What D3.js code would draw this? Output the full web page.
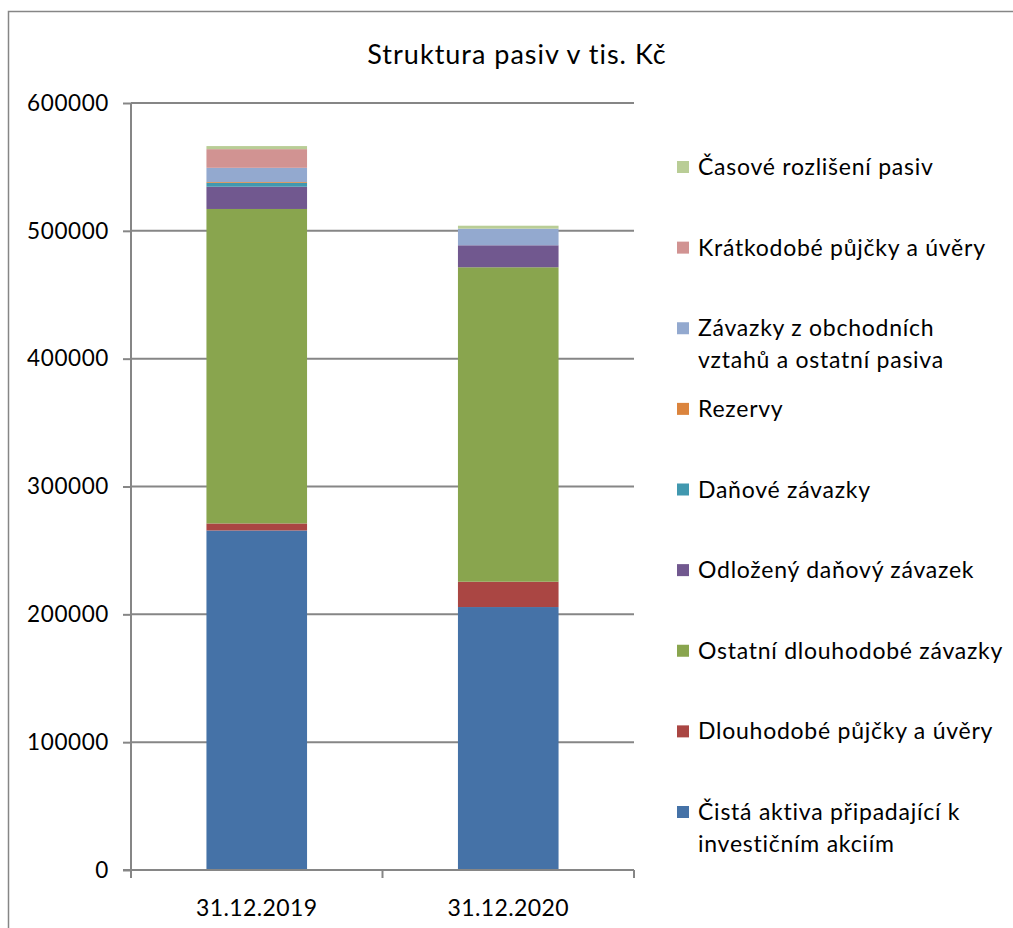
<!DOCTYPE html>
<html>
<head>
<meta charset="utf-8">
<script src="https://cdn.jsdelivr.net/npm/d3@7"></script>
<style>
  html, body { margin: 0; padding: 0; background: #fff; }
  svg { display: block; }
  text { font-family: Lato, "Open Sans", sans-serif; fill: #000; }
</style>
</head>
<body>
<svg id="chart" width="1013" height="928"></svg>
<script>
// Balance sheet liabilities, thousands CZK
const categories = ["31.12.2019", "31.12.2020"];

const seriesNames = [
  "Čistá aktiva připadající k investičním akciím",
  "Dlouhodobé půjčky a úvěry",
  "Ostatní dlouhodobé závazky",
  "Odložený daňový závazek",
  "Daňové závazky",
  "Rezervy",
  "Závazky z obchodních vztahů a ostatní pasiva",
  "Krátkodobé půjčky a úvěry",
  "Časové rozlišení pasiv"
];

const legendLines = [
  ["Čistá aktiva připadající k", "investičním akciím"],
  ["Dlouhodobé půjčky a úvěry"],
  ["Ostatní dlouhodobé závazky"],
  ["Odložený daňový závazek"],
  ["Daňové závazky"],
  ["Rezervy"],
  ["Závazky z obchodních", "vztahů a ostatní pasiva"],
  ["Krátkodobé půjčky a úvěry"],
  ["Časové rozlišení pasiv"]
];

const seriesColors = ["#4572A7", "#AA4643", "#89A54E", "#71588F", "#4198AF", "#DB843D", "#93A9CF", "#D19392", "#B9CD96"];

const values2019 = [265600, 5500, 246000, 17400, 3100, 600, 11100, 14600, 2400];
const values2020 = [205700, 19800, 246000, 17200, 0, 0, 13000, 0, 2300];

const yTicks = [0, 100000, 200000, 300000, 400000, 500000, 600000];

const svg = d3.select("#chart");
const grey = "#868686";

// outer chart frame
svg.append("path")
  .attr("d", "M8.5,940 V11.5 H1013")
  .attr("fill", "none").attr("stroke", grey).attr("stroke-width", 1.5);

const plot = { left: 131, right: 634, top: 103, bottom: 870 };

const x = d3.scaleBand().domain(categories).range([plot.left, plot.right]).paddingInner(0.6).paddingOuter(0.3);
const y = d3.scaleLinear().domain([0, 600000]).range([plot.bottom, plot.top]);

// gridlines
svg.append("g").selectAll("line").data(yTicks.filter(d => d > 0)).join("line")
  .attr("x1", plot.left).attr("x2", plot.right)
  .attr("y1", d => y(d)).attr("y2", d => y(d))
  .attr("stroke", grey).attr("stroke-width", 2);

// stacked bars
const rows = categories.map((c, i) => {
  const r = { cat: c };
  seriesNames.forEach((s, k) => { r[s] = (i === 0 ? values2019 : values2020)[k]; });
  return r;
});
const stacked = d3.stack().keys(seriesNames)(rows);

svg.append("g").selectAll("g").data(stacked).join("g")
  .attr("fill", (d, i) => seriesColors[i])
  .selectAll("rect").data(d => d).join("rect")
  .attr("x", d => x(d.data.cat))
  .attr("width", x.bandwidth())
  .attr("y", d => y(d[1]))
  .attr("height", d => Math.max(0, y(d[0]) - y(d[1])));

// y axis
const yAxis = svg.append("g").attr("transform", `translate(${plot.left},0)`)
  .call(d3.axisLeft(y).tickValues(yTicks).tickFormat(d3.format("d")).tickSize(8).tickPadding(14));
yAxis.select(".domain").attr("stroke", grey).attr("stroke-width", 2).attr("d", `M0,${plot.top}V${plot.bottom + 8}`);
yAxis.selectAll(".tick line").attr("stroke", grey).attr("stroke-width", 2);
yAxis.selectAll(".tick text")
  .style("font-size", "22.5px").style("font-family", "Lato").style("letter-spacing", "0.6px")
  .attr("fill", "#000");

// x axis
const xEdges = [plot.left, (plot.left + plot.right) / 2, plot.right];
const xAxisG = svg.append("g");
xAxisG.append("line").attr("x1", plot.left - 8).attr("x2", plot.right)
  .attr("y1", plot.bottom).attr("y2", plot.bottom)
  .attr("stroke", grey).attr("stroke-width", 2);
xAxisG.selectAll("line.tk").data(xEdges).join("line").attr("class", "tk")
  .attr("x1", d => d).attr("x2", d => d)
  .attr("y1", plot.bottom).attr("y2", plot.bottom + 8)
  .attr("stroke", grey).attr("stroke-width", 2);
xAxisG.selectAll("text").data(categories).join("text")
  .attr("x", d => x(d) + x.bandwidth() / 2)
  .attr("y", 916)
  .attr("text-anchor", "middle")
  .style("font-size", "23px").style("letter-spacing", "0.4px")
  .text(d => d);

// title
svg.append("text").attr("x", 517).attr("y", 64).attr("text-anchor", "middle")
  .style("font-size", "27px").style("letter-spacing", "1px")
  .text("Struktura pasiv v tis. Kč");

// legend, top entry = last series
const legendOrder = d3.range(seriesNames.length).reverse();
const ly = d3.scalePoint().domain(legendOrder).range([167, 812]);
const leg = svg.append("g").selectAll("g").data(legendOrder).join("g")
  .attr("transform", k => `translate(677,${ly(k)})`);
leg.append("rect").attr("x", 0).attr("y", -6).attr("width", 12).attr("height", 12)
  .attr("fill", k => seriesColors[k]);
leg.append("text").attr("x", 21).attr("y", 8)
  .style("font-size", "23px").style("letter-spacing", "0.75px")
  .selectAll("tspan").data(k => legendLines[k]).join("tspan")
  .attr("x", 21).attr("dy", (d, i) => i === 0 ? 0 : 32)
  .text(d => d);
</script>
</body>
</html>
